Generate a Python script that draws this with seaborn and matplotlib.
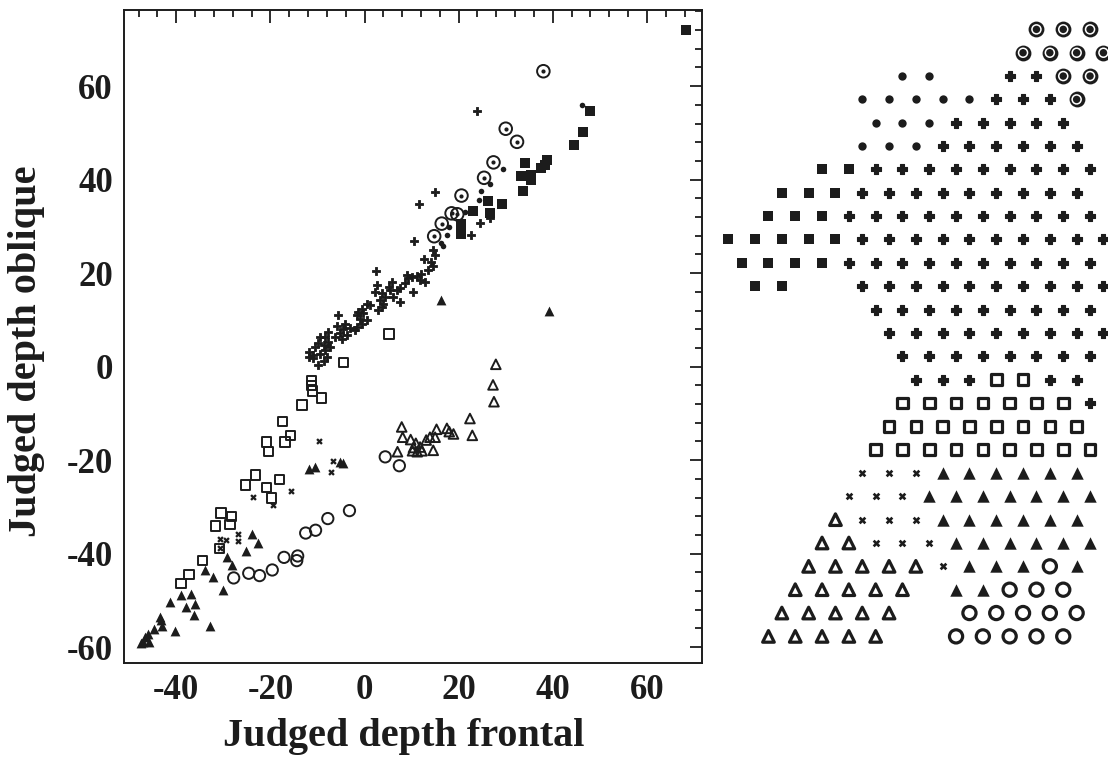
"""Judged depth: frontal vs oblique view, with the stimulus layout"""
import matplotlib

matplotlib.use("Agg")
import matplotlib.pyplot as plt
import pandas as pd
import seaborn as sns
from matplotlib.ticker import MultipleLocator

INK = "#1c1c1c"

# left panel, one pair of lists per stimulus class (frontal, oblique)
plus_x = [24.0, 15.0, 11.6, 24.5, 22.6, 10.6, 26.6, 2.4, 14.6, 15.0, 12.6, 14.1, 14.6,
          13.5, 12.1, 11.1, 10.0, 9.3, 9.0, 11.8, 12.8, 8.6, 10.4, 7.5, 6.8, 5.8, 5.1,
          5.4, 6.1, 7.5, 2.6, 2.2, 3.7, 4.4, 3.3, 4.0, 3.7, 2.9, 1.2, 0.5, -0.6, -1.3,
          -1.7, -0.3, -1.0, 0.5, -0.6, -1.7, -5.6, -4.1, -5.8, -3.1, -4.5, -5.2, -2.0,
          -3.7, -4.8, -6.3, -7.7, -8.4, -9.4, -7.7, -8.7, -9.8, -10.5, -7.3, -8.4, -9.4,
          -11.9, -10.9, -11.9, -8.0, -8.7, -9.8, -10.9]
plus_y = [54.7, 37.4, 34.9, 30.8, 28.1, 26.9, 31.7, 20.5, 24.9, 23.9, 23.1, 22.4, 21.5,
          20.6, 19.9, 19.4, 19.1, 18.9, 19.6, 18.5, 18.1, 17.8, 16.0, 16.9, 16.4, 18.1, 17.1,
          16.4, 14.9, 13.9, 17.4, 16.0, 15.7, 14.9, 14.2, 13.5, 12.8, 12.2, 13.2, 13.5, 12.4,
          11.7, 11.0, 11.4, 10.3, 9.9, 9.2, 8.5, 11.0, 9.2, 8.7, 8.2, 8.0, 7.1, 7.8,
          6.7, 6.0, 6.4, 7.4, 6.4, 6.4, 5.3, 4.6, 5.0, 4.2, 4.2, 3.5, 2.8,
          3.2, 2.5, 2.1, 2.1, 1.2, 0.3, 1.8]

dot_x = [46.3, 29.5, 26.6, 24.7, 24.4, 21.3, 18.0, 17.6, 16.2, 16.7]
dot_y = [55.9, 42.3, 39.0, 37.5, 35.6, 33.1, 29.9, 28.2, 26.5, 25.9]

ring_x = [38.0, 30.0, 32.4, 27.4, 25.4, 20.6, 18.5, 19.7, 16.4, 14.8]
ring_y = [63.2, 50.9, 48.1, 43.7, 40.4, 36.6, 32.8, 32.6, 30.6, 27.9]

fsquare_x = [68.2, 48.0, 46.5, 44.4, 34.1, 38.8, 38.4, 37.4, 33.2, 35.4, 35.4, 33.7,
             26.3, 29.2, 23.0, 26.6, 20.6, 20.6]
fsquare_y = [72.1, 54.6, 50.3, 47.5, 43.5, 44.2, 43.1, 42.4, 40.8, 41.0, 39.9, 37.5,
             35.4, 34.9, 33.3, 32.8, 30.6, 28.3]

osquare_x = [5.2, -4.5, -11.2, -11.2, -11.0, -9.1, -13.3, -17.4, -16.9, -15.8, -20.9,
             -20.4, -23.2, -25.3, -20.8, -18.1, -19.7, -30.5, -28.2, -28.6, -31.7, -30.8,
             -34.4, -37.3, -39.0]
osquare_y = [7.0, 0.9, -3.0, -4.0, -5.2, -6.7, -8.2, -11.7, -16.1, -14.8, -16.1,
             -18.2, -23.2, -25.3, -25.9, -24.1, -28.1, -31.3, -32.1, -33.8, -34.1, -38.9,
             -41.5, -44.5, -46.4]

cross_x = [-9.6, -6.6, -7.2, -15.7, -23.7, -19.4, -26.8, -26.9, -29.4, -30.7, -30.8]
cross_y = [-15.9, -20.1, -22.6, -26.6, -27.8, -29.6, -35.9, -37.3, -37.1, -36.8, -38.9]

ftri_x = [16.2, 39.3, -11.7, -10.5, -5.2, -4.5, -23.8, -22.7, -25.2, -29.3, -28.2, -33.9,
          -32.1, -30.1, -41.3, -39.0, -36.8, -38.0, -36.0, -36.2, -32.8, -43.4, -43.2,
          -43.1, -40.2, -44.8, -45.9, -46.6, -47.0, -45.7, -47.5]
ftri_y = [14.2, 11.9, -21.9, -21.4, -20.5, -20.7, -35.9, -37.8, -39.4, -40.8, -42.5, -43.5,
          -45.1, -47.7, -50.3, -48.9, -48.7, -51.4, -50.7, -53.2, -55.4, -53.5, -54.2,
          -55.5, -56.6, -56.2, -57.1, -57.8, -58.9, -59.0, -59.2]

otri_x = [27.9, 27.3, 27.5, 22.4, 22.9, 7.9, 8.1, 9.8, 7.0, 10.9, 10.4, 11.8, 10.2, 11.2,
          12.2, 13.1, 13.9, 15.0, 15.3, 17.5, 18.0, 18.9, 14.6]
otri_y = [0.5, -3.9, -7.5, -11.1, -14.7, -12.9, -15.1, -15.6, -18.2, -16.4, -17.3, -17.2,
          -18.0, -18.2, -18.0, -15.7, -15.1, -15.1, -13.4, -13.2, -13.9, -14.4, -17.9]

ocircle_x = [-3.2, -7.8, -10.4, -12.5, -14.2, -14.4, -17.1, -19.6, -22.3, -24.6, -27.8,
             4.4, 7.4]
ocircle_y = [-30.8, -32.5, -35.0, -35.6, -40.5, -41.5, -40.8, -43.5, -44.7, -44.2, -45.2,
             -19.3, -21.2]

# right panel: stimulus layout, one entry per row (top to bottom):
# first column, then one symbol every second column (space = empty)
layout_rows = [
    (23, "@@@"),
    (22, "@@@@"),
    (13, "**  ++@@"),
    (10, "*****+++@"),
    (11, "***+++++"),
    (10, "***++++++"),
    (7, "SS+++++++++"),
    (4, "SSS+++++++++"),
    (3, "SSS++++++++++"),
    (0, "SSSSS++++++++++"),
    (1, "SSSS++++++++++"),
    (2, "SS  ++++++++++"),
    (11, "+++++++++"),
    (12, "+++++++++"),
    (13, "++++++++"),
    (14, "+++ss++"),
    (13, "sssssss+"),
    (12, "ssssssss"),
    (11, "sssssssss"),
    (10, "xxxTTTTTT"),
    (9, "xxxTTTTTTT"),
    (8, "txxxTTTTTT"),
    (7, "ttxxxTTTTTT"),
    (6, "tttttxTTToT"),
    (5, "ttttt TTooo"),
    (4, "ttttt  ooooo"),
    (3, "ttttt  ooooo"),
]

sns.set_theme(style="white")
plt.rcParams["font.family"] = ["Liberation Serif", "DejaVu Serif"]
plt.rcParams["axes.unicode_minus"] = False

fig = plt.figure(figsize=(11.08, 7.58), dpi=100)
ax = fig.add_axes([124 / 1108, 95 / 758, 578 / 1108, 653 / 758])

filled = dict(color=INK, edgecolor=INK, linewidth=0)
hollow = dict(facecolors="none", edgecolor=INK, linewidth=1.4)

left_groups = [
    (plus_x, plus_y, dict(marker="P", s=36, color=INK, edgecolor=INK, linewidth=0.6)),
    (dot_x, dot_y, dict(marker="o", s=16, **filled)),
    (ring_x, ring_y, dict(marker="o", s=82, **hollow)),
    (ring_x, ring_y, dict(marker="o", s=9, **filled)),
    (fsquare_x, fsquare_y, dict(marker="s", s=46, **filled)),
    (osquare_x, osquare_y, dict(marker="s", s=44, **hollow)),
    (cross_x, cross_y, dict(marker="X", s=22, **filled)),
    (ftri_x, ftri_y, dict(marker="^", s=50, **filled)),
    (otri_x, otri_y, dict(marker="^", s=48, **hollow)),
    (ocircle_x, ocircle_y, dict(marker="o", s=66, **hollow)),
]
for xs, ys, style in left_groups:
    df = pd.DataFrame({"frontal": xs, "oblique": ys})
    sns.scatterplot(data=df, x="frontal", y="oblique", ax=ax, legend=False, **style)

ax.set_xlim(-51.1, 71.7)
ax.set_ylim(-63.4, 76.3)
ax.xaxis.set_major_locator(MultipleLocator(20))
ax.yaxis.set_major_locator(MultipleLocator(20))
ax.xaxis.set_minor_locator(MultipleLocator(4))
ax.yaxis.set_minor_locator(MultipleLocator(4))
ax.tick_params(which="both", direction="in", top=True, right=True, width=1.3, color=INK)
ax.tick_params(which="major", length=9, pad=8, labelsize=25, labelcolor=INK)
ax.tick_params(which="minor", length=5)
for lab in ax.get_xticklabels() + ax.get_yticklabels():
    lab.set_fontweight("bold")
for spine in ax.spines.values():
    spine.set_linewidth(1.4)
    spine.set_color(INK)
ax.set_xlabel("Judged depth frontal", fontsize=29, fontweight="bold", color=INK)
ax.set_ylabel("Judged depth oblique", fontsize=29, fontweight="bold", color=INK)
ax.xaxis.set_label_coords(0.484, -0.084)
ax.yaxis.set_label_coords(-0.137, 0.478)

# right panel
cells = []
for row, (start, symbols) in enumerate(layout_rows):
    for i, sym in enumerate(symbols):
        if sym != " ":
            cells.append({"col": start + 2 * i, "row": row, "sym": sym})
grid = pd.DataFrame(cells)

ax2 = fig.add_axes([715 / 1108, 95 / 758, 393 / 1108, 653 / 758])
thick = dict(facecolors="none", edgecolor=INK, linewidth=2.3)
right_styles = {
    "@": [dict(marker="o", s=130, **filled),
          dict(marker="o", s=42, facecolors="none", edgecolor="white", linewidth=1.1)],
    "*": [dict(marker="o", s=36, **filled)],
    "+": [dict(marker="P", s=55, color=INK, edgecolor=INK, linewidth=0.8)],
    "S": [dict(marker="s", s=60, **filled)],
    "s": [dict(marker="s", s=58, **thick)],
    "x": [dict(marker="X", s=30, **filled)],
    "T": [dict(marker="^", s=80, **filled)],
    "t": [dict(marker="^", s=70, **thick)],
    "o": [dict(marker="o", s=90, **thick)],
}
for sym, styles in right_styles.items():
    sub = grid[grid["sym"] == sym]
    for style in styles:
        sns.scatterplot(data=sub, x="col", y="row", ax=ax2, legend=False, **style)
ax2.set_xlim(-0.99, 28.34)
ax2.set_ylim(27.14, -0.83)
ax2.axis("off")

fig.savefig("out.png", dpi=100)
